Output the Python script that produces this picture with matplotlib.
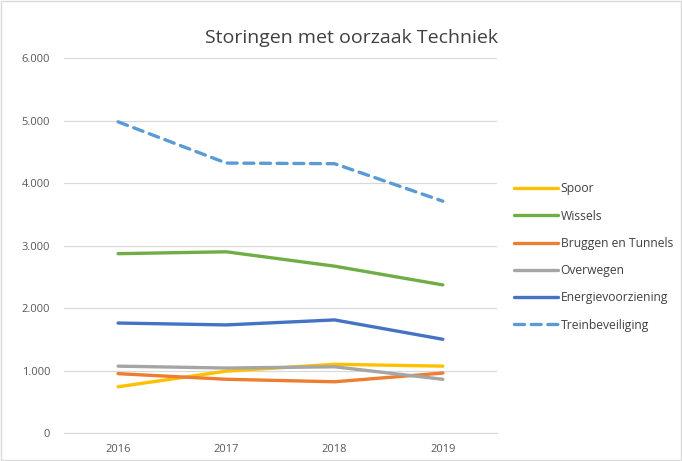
import matplotlib
matplotlib.use("Agg")
import matplotlib.pyplot as plt
from matplotlib.patches import Rectangle

# data
years = ["2016", "2017", "2018", "2019"]
spoor = [740, 990, 1100, 1070]
wissels = [2870, 2900, 2670, 2370]
bruggen = [950, 860, 820, 960]
overwegen = [1070, 1040, 1060, 860]
energie = [1760, 1730, 1810, 1500]
treinbev = [4980, 4320, 4310, 3710]

series = [
    ("Spoor", spoor, "#FFC000", "-"),
    ("Wissels", wissels, "#70AD47", "-"),
    ("Bruggen en Tunnels", bruggen, "#ED7D31", "-"),
    ("Overwegen", overwegen, "#A5A5A5", "-"),
    ("Energievoorziening", energie, "#4472C4", "-"),
    ("Treinbeveiliging", treinbev, "#5B9BD5", "--"),
]

plt.rcParams['font.family'] = ['Open Sans', 'DejaVu Sans']

fig = plt.figure(figsize=(6.82, 4.61), dpi=100)
ax = fig.add_axes([0.0938, 0.0607, 0.6349, 0.8133])

x = list(range(len(years)))
handles = []
for name, vals, color, ls in series:
    if ls == "--":
        ln, = ax.plot(x, vals, color=color, lw=2.4, ls=(0, (3, 2)),
                      dash_capstyle='round', label=name)
    else:
        ln, = ax.plot(x, vals, color=color, lw=2.4, solid_capstyle='round', label=name)
    handles.append(ln)

ax.set_xlim(-0.5, 3.5)
ax.set_ylim(0, 6000)
ax.set_xticks(x)
ax.set_xticklabels(years)
yt = [0, 1000, 2000, 3000, 4000, 5000, 6000]
ax.set_yticks(yt)
ax.set_yticklabels(["0" if v == 0 else f"{v // 1000}.{v % 1000:03d}" for v in yt])
ax.grid(axis='y', color='#D9D9D9', lw=0.9)
ax.set_axisbelow(True)
for s in ['top', 'right', 'left']:
    ax.spines[s].set_visible(False)
ax.spines['bottom'].set_color('#D9D9D9')
ax.tick_params(length=0, labelsize=8, colors='#595959', pad=8)
ax.tick_params(axis='y', pad=10)

fig.text(0.515, 0.917, "Storingen met oorzaak Techniek", ha='center', va='center',
         fontsize=14, color='#404040')

fig.legend(handles=handles, loc='upper left', bbox_to_anchor=(0.737, 0.628),
           frameon=False, fontsize=8.7, labelcolor='#404040', handlelength=3.7,
           handletextpad=0.2, labelspacing=1.18)

fig.patches.append(Rectangle((0.001, 0.002), 0.997, 0.996, transform=fig.transFigure,
                             fill=False, edgecolor='#D9D9D9', lw=1))

fig.savefig("out.png", dpi=100)
